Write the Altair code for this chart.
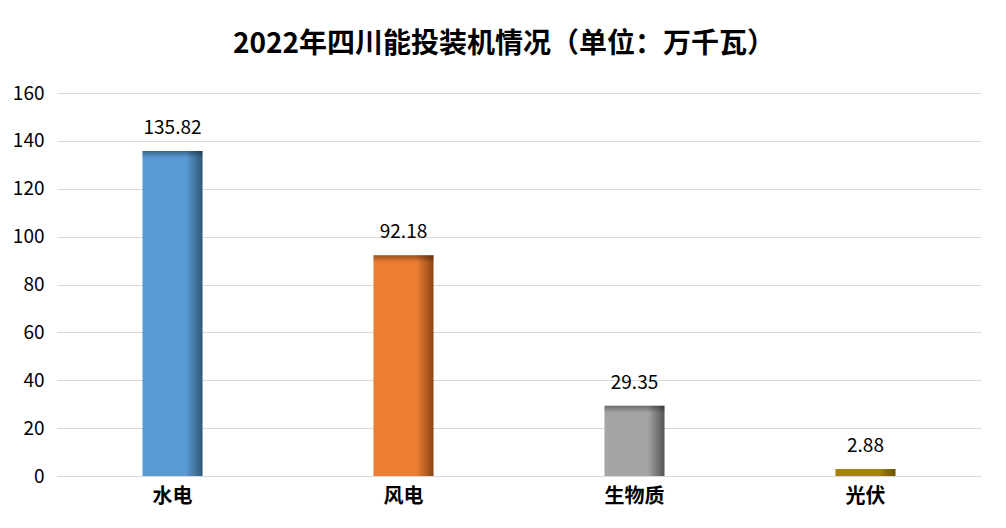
import altair as alt
import pandas as pd

categories = ["水电", "风电", "生物质", "光伏"]
values = [135.82, 92.18, 29.35, 2.88]
labels = ["135.82", "92.18", "29.35", "2.88"]
base_colors = ["#5B9BD5", "#ED7D31", "#A5A5A5", "#A88200"]
dark_colors = ["#2E5778", "#8A4414", "#555555", "#6B5200"]

df = pd.DataFrame({"cat": categories, "val": values, "lab": labels})

FONT = "Noto Sans CJK SC"

x = alt.X("cat:N", sort=categories, scale=alt.Scale(paddingInner=0.74, paddingOuter=0.37),
          axis=alt.Axis(title=None, labelAngle=0, labelFontSize=20, labelFontWeight="bold",
                        labelColor="#000000", labelFont=FONT, labelPadding=10,
                        ticks=False, domain=False))
y = alt.Y("val:Q", scale=alt.Scale(domain=[0, 160]),
          axis=alt.Axis(title=None, values=list(range(0, 161, 20)), labelFontSize=19,
                        labelColor="#000000", labelFont=FONT, labelPadding=13,
                        ticks=False, domain=False, gridColor="#D9D9D9", gridWidth=1))

layers = []
for c, b, d in zip(categories, base_colors, dark_colors):
    grad = alt.Gradient(gradient="linear", x1=0, y1=0, x2=1, y2=0,
                        stops=[alt.GradientStop(color=b, offset=0),
                               alt.GradientStop(color=b, offset=0.72),
                               alt.GradientStop(color=d, offset=1)])
    layers.append(
        alt.Chart(df).transform_filter(alt.datum.cat == c)
        .mark_bar(fill=grad).encode(x=x, y=y)
    )

top_grad = alt.Gradient(gradient="linear", x1=0, y1=0, x2=0, y2=1,
                        stops=[alt.GradientStop(color="rgba(0,0,0,0.35)", offset=0),
                               alt.GradientStop(color="rgba(0,0,0,0)", offset=1)])
top_shade = alt.Chart(df).transform_filter(alt.datum.val > 10).transform_calculate(
    v2="datum.val - 3").mark_bar(fill=top_grad).encode(
    x=alt.X("cat:N", sort=categories), y="val:Q", y2="v2:Q")

text = alt.Chart(df).mark_text(dy=-23, fontSize=19, font=FONT, color="#000000").encode(
    x=alt.X("cat:N", sort=categories), y="val:Q", text="lab:N")

chart = alt.layer(*layers, top_shade, text).properties(
    width=924, height=383,
    autosize=alt.AutoSizeParams(type="none"),
    padding={"left": 49, "top": 85, "right": 17, "bottom": 36},
    title=alt.TitleParams("2022年四川能投装机情况（单位：万千瓦）", fontSize=28, fontWeight="bold",
                          font=FONT, color="#000000", anchor="middle", offset=25, dx=-15),
    background="#FFFFFF",
).configure_view(stroke=None)

chart.save("out.html", embed_options={"renderer": "svg", "actions": False})
